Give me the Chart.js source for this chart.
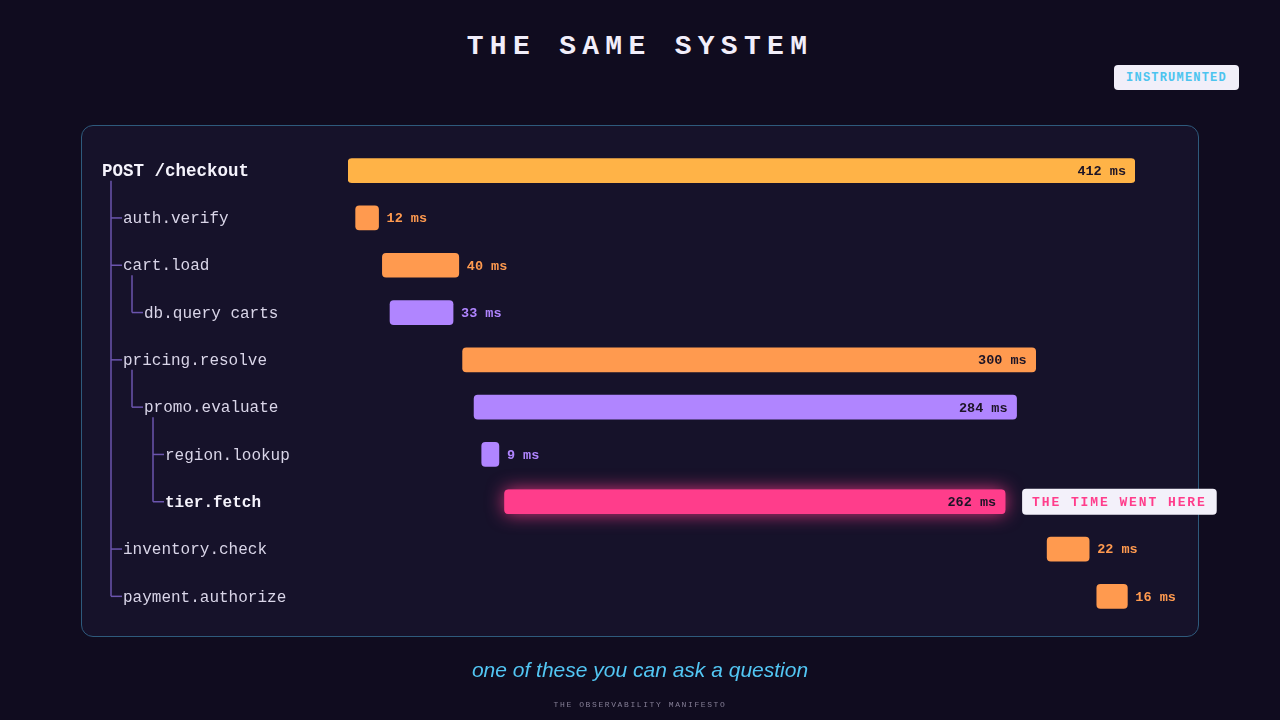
<!DOCTYPE html>
<html lang="en">
<head>
    <meta charset="UTF-8">
    <title>The Same System</title>
    <script src="https://cdn.jsdelivr.net/npm/chart.js"></script>
    <style>
        html, body { margin: 0; padding: 0; }
        body { width: 1280px; height: 720px; background: #100c1f; position: relative; overflow: hidden; font-family: "Courier New", "Liberation Mono", monospace; }
        .title { position: absolute; top: 31px; left: 0; width: 1280px; text-align: center; color: #f1eefa; font-weight: bold; font-size: 28px; letter-spacing: 6.3px; }
        .badge { position: absolute; left: 1114px; top: 65px; width: 125px; height: 25px; line-height: 26px; text-align: center; background: #f1eff9; border-radius: 4px; color: #4cc4ef; font-weight: bold; font-size: 12px; letter-spacing: 1.2px; }
        .panel { position: absolute; left: 81px; top: 125px; width: 1116px; height: 510px; border: 1px solid #2e5a7c; border-radius: 12px; background: #16122a; }
        #waterfall { position: absolute; left: 0; top: 0; }
        .caption { position: absolute; top: 658px; left: 0; width: 1280px; text-align: center; font-family: "Liberation Sans", Arial, sans-serif; font-style: italic; font-size: 21px; color: #52c6f3; }
        .footer { position: absolute; top: 700px; left: 0; width: 1280px; text-align: center; font-size: 8px; letter-spacing: 1.6px; color: #857f96; }
    </style>
</head>
<body>
    <div class="title">THE SAME SYSTEM</div>
    <div class="badge">INSTRUMENTED</div>
    <div class="panel"></div>
    <canvas id="waterfall" width="1280" height="720"></canvas>
    <div class="caption">one of these you can ask a question</div>
    <div class="footer">THE OBSERVABILITY MANIFESTO</div>

    <script>
        // trace spans, in tree order
        const spans = ['POST /checkout', 'auth.verify', 'cart.load', 'db.query carts', 'pricing.resolve',
                       'promo.evaluate', 'region.lookup', 'tier.fetch', 'inventory.check', 'payment.authorize'];
        const depths = [0, 1, 1, 2, 1, 2, 3, 3, 1, 1];
        const starts = [0, 4, 18, 22, 60, 66, 70, 82, 366, 392];        // ms from request start
        const durations = [412, 12, 40, 33, 300, 284, 9, 262, 22, 16];  // ms
        const kinds = ['root', 'span', 'span', 'child', 'span', 'child', 'child', 'hot', 'span', 'span'];
        const hotNote = 'THE TIME WENT HERE';
        const totalMs = 412;

        const kindColors = { root: '#ffb347', span: '#ff9a4f', child: '#b085ff', hot: '#ff3d8b' };
        const mono = '"Courier New", "Liberation Mono", monospace';

        function roundRect(ctx, x, y, w, h, r) {
            ctx.beginPath();
            ctx.roundRect(x, y, w, h, r);
        }

        const waterfallPlugin = {
            id: 'waterfall',
            beforeDatasetsDraw(chart) {
                // pink glow under the hot span
                const ctx = chart.ctx;
                const meta = chart.getDatasetMeta(0);
                kinds.forEach((k, i) => {
                    if (k !== 'hot') return;
                    const bar = meta.data[i].getProps(['x', 'y', 'base', 'height'], true);
                    ctx.save();
                    ctx.shadowColor = 'rgba(255, 61, 139, 0.85)';
                    ctx.shadowBlur = 18;
                    ctx.fillStyle = kindColors.hot;
                    roundRect(ctx, bar.base, bar.y - bar.height / 2, bar.x - bar.base, bar.height, 4);
                    ctx.fill();
                    ctx.restore();
                });
            },
            afterDatasetsDraw(chart) {
                const ctx = chart.ctx;
                const meta = chart.getDatasetMeta(0);
                const yScale = chart.scales.y;
                const rowY = i => yScale.getPixelForValue(i);
                const labelX = d => 102 + d * 21;
                const lineX = d => 111 + (d - 1) * 21;

                ctx.save();
                // tree connectors
                ctx.strokeStyle = '#6b55ae';
                ctx.lineWidth = 1.5;
                spans.forEach((name, i) => {
                    const d = depths[i];
                    // last child of this node
                    let last = -1;
                    for (let j = i + 1; j < spans.length && depths[j] > d; j++) {
                        if (depths[j] === d + 1) last = j;
                    }
                    if (last > 0) {
                        ctx.beginPath();
                        ctx.moveTo(lineX(d + 1), rowY(i) + 10);
                        ctx.lineTo(lineX(d + 1), rowY(last));
                        ctx.stroke();
                    }
                    if (d > 0) {
                        ctx.beginPath();
                        ctx.moveTo(lineX(d), rowY(i));
                        ctx.lineTo(labelX(d) - 1, rowY(i));
                        ctx.stroke();
                    }
                });

                // span names
                ctx.textBaseline = 'middle';
                ctx.textAlign = 'left';
                spans.forEach((name, i) => {
                    const strong = kinds[i] === 'root' || kinds[i] === 'hot';
                    const size = kinds[i] === 'root' ? 17.5 : 16;
                    ctx.font = (strong ? 'bold ' : '') + size + 'px ' + mono;
                    ctx.fillStyle = strong ? '#f5f3fc' : '#d9d5e8';
                    ctx.fillText(name, labelX(depths[i]), rowY(i) + 1);
                });

                // duration labels
                ctx.font = 'bold 13.5px ' + mono;
                durations.forEach((ms, i) => {
                    const bar = meta.data[i].getProps(['x', 'y', 'base', 'height'], true);
                    const text = ms + ' ms';
                    if (ms >= 100) {
                        ctx.textAlign = 'right';
                        ctx.fillStyle = '#1c1426';
                        ctx.fillText(text, bar.x - 9, bar.y + 1);
                    } else {
                        ctx.textAlign = 'left';
                        ctx.fillStyle = kindColors[kinds[i]];
                        ctx.fillText(text, bar.x + 8, bar.y + 1);
                    }
                });

                // callout next to the hot span
                const hot = kinds.indexOf('hot');
                const hb = meta.data[hot].getProps(['x', 'y'], true);
                ctx.font = 'bold 13px ' + mono;
                ctx.letterSpacing = '1.9px';
                const w = ctx.measureText(hotNote).width + 20;
                ctx.fillStyle = '#f3f1fa';
                roundRect(ctx, hb.x + 17, hb.y - 13, w, 26, 4);
                ctx.fill();
                ctx.fillStyle = '#ff3d8b';
                ctx.textAlign = 'left';
                ctx.fillText(hotNote, hb.x + 27, hb.y + 1);
                ctx.restore();
            }
        };

        new Chart(document.getElementById('waterfall').getContext('2d'), {
            type: 'bar',
            data: {
                labels: spans,
                datasets: [{
                    data: starts.map((s, i) => [s, s + durations[i]]),
                    backgroundColor: kinds.map(k => kindColors[k]),
                    borderRadius: 4,
                    borderSkipped: false,
                    barThickness: 24
                }]
            },
            options: {
                indexAxis: 'y',
                responsive: false,
                animation: false,
                layout: { padding: { left: 348, right: 145, top: 147, bottom: 100 } },
                scales: {
                    x: { type: 'linear', min: 0, max: totalMs, display: false },
                    y: { display: false }
                },
                plugins: {
                    legend: { display: false },
                    tooltip: { enabled: false }
                }
            },
            plugins: [waterfallPlugin]
        });
    </script>
</body>
</html>
